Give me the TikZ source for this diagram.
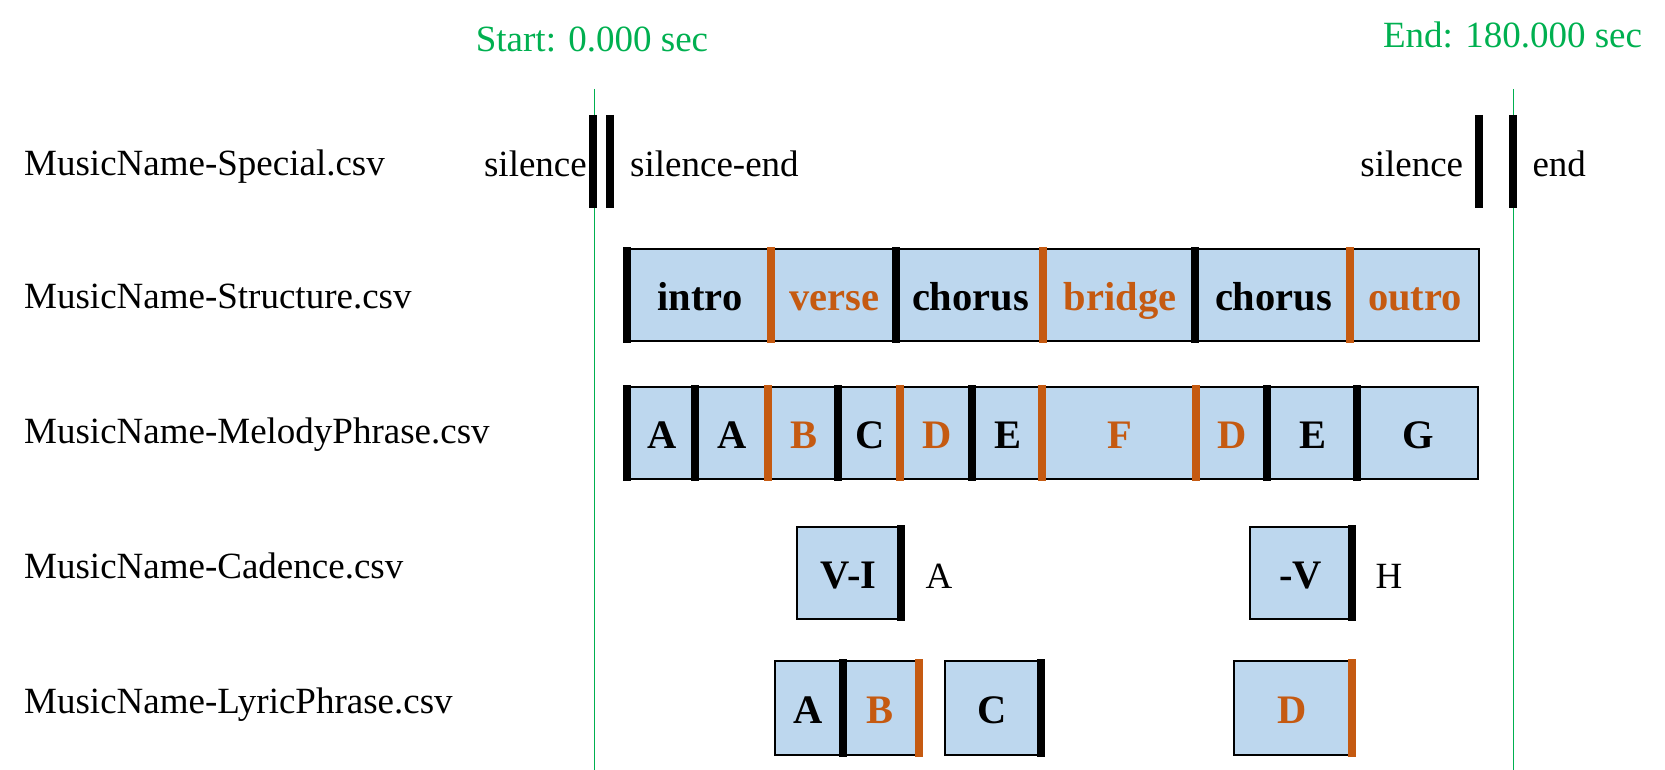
\documentclass[tikz,border=0pt]{standalone}
\usepackage{fontspec}
\setmainfont{Liberation Serif}
\usetikzlibrary{calc}
\definecolor{boxblue}{HTML}{BDD7EE}
\definecolor{tagorange}{HTML}{C55A11}
\definecolor{markgreen}{HTML}{00B050}
\newcommand\lblsize{\fontsize{37}{44}\selectfont}
\newcommand\segsize{\fontsize{40.5}{48}\selectfont\bfseries}
% segment box: name, x1, x2, ytop, ybot, text colour, text
\newcommand\segbox[7]{%
  \node[seg, minimum width={(#3)-(#2)}, minimum height={(#5)-(#4)}] (#1)
    at ({((#2)+(#3))/2},{((#4)+(#5))/2}) {};
  \node[segtxt, text=#6] (#1-t) at ($(#1.center)+(0,15)$) {#7};
}
\newcommand\leftbar[2]{\draw[tagbar,#2] ([yshift=1pt]#1.north west) -- ([yshift=-1pt]#1.south west);}
\newcommand\rightbar[2]{\draw[tagbar,#2] ([yshift=1pt]#1.north east) -- ([yshift=-1pt]#1.south east);}
\begin{document}
\begin{tikzpicture}[x=1pt,y=-1pt,
  seg/.style={draw=black, line width=2pt, fill=boxblue, inner sep=0pt},
  segtxt/.style={font=\segsize, inner sep=0pt, anchor=base},
  lbl/.style={font=\lblsize, inner sep=0pt, anchor=base west},
  plain/.style={font=\lblsize, inner sep=0pt},
  tagbar/.style={line width=7.5pt},
  gline/.style={draw=markgreen, line width=1.3pt},
  gtext/.style={font=\lblsize, text=markgreen, inner sep=0pt, anchor=base}]
\useasboundingbox (0,0) rectangle (1665,770);

% time markers
\node[gtext] (start) at (592,52) {Start: 0.000 sec};
\node[gtext] (end) at (1512.5,47.5) {End: 180.000 sec};
\coordinate (g1top) at (594.3,89);
\coordinate (g1bot) at (594.3,770);
\coordinate (g2top) at (1513.3,89);
\coordinate (g2bot) at (1513.3,770);
\draw[gline] (g1top) -- (g1bot);
\draw[gline] (g2top) -- (g2bot);

% row labels
\node[lbl] (lspecial) at (24,176) {MusicName-Special.csv};
\node[lbl] (lstruct) at (24,308.5) {MusicName-Structure.csv};
\node[lbl] (lmelody) at (24,443.3) {MusicName-MelodyPhrase.csv};
\node[lbl] (lcadence) at (24,578.3) {MusicName-Cadence.csv};
\node[lbl] (llyric) at (24,713.3) {MusicName-LyricPhrase.csv};

% special row
\draw[tagbar] (593,115) -- (593,208);
\draw[tagbar] (610,115) -- (610,208);
\draw[tagbar] (1479,115) -- (1479,208);
\draw[tagbar] (1513,115) -- (1513,208);
\node[plain, anchor=base east] (sil1) at (587,176.7) {silence};
\node[plain, anchor=base west] (silend) at (630,176.7) {silence-end};
\node[plain, anchor=base east] (sil2) at (1463.3,176.7) {silence};
\node[plain, anchor=base west] (endtxt) at (1532.3,176.7) {end};

% structure row
\segbox{s1}{628}{772}{249}{341}{black}{intro}
\segbox{s2}{772}{897}{249}{341}{tagorange}{verse}
\segbox{s3}{897}{1044}{249}{341}{black}{chorus}
\segbox{s4}{1044}{1196}{249}{341}{tagorange}{bridge}
\segbox{s5}{1196}{1351}{249}{341}{black}{chorus}
\segbox{s6}{1351}{1479}{249}{341}{tagorange}{outro}
\leftbar{s1}{black}
\leftbar{s2}{tagorange}
\leftbar{s3}{black}
\leftbar{s4}{tagorange}
\leftbar{s5}{black}
\leftbar{s6}{tagorange}

% melody phrase row
\segbox{m1}{628}{696}{387}{479}{black}{A}
\segbox{m2}{696}{769}{387}{479}{black}{A}
\segbox{m3}{769}{839}{387}{479}{tagorange}{B}
\segbox{m4}{839}{901}{387}{479}{black}{C}
\segbox{m5}{901}{973}{387}{479}{tagorange}{D}
\segbox{m6}{973}{1043}{387}{479}{black}{E}
\segbox{m7}{1043}{1197}{387}{479}{tagorange}{F}
\segbox{m8}{1197}{1268}{387}{479}{tagorange}{D}
\segbox{m9}{1268}{1358}{387}{479}{black}{E}
\segbox{m10}{1358}{1478}{387}{479}{black}{G}
\leftbar{m1}{black}
\leftbar{m2}{black}
\leftbar{m3}{tagorange}
\leftbar{m4}{black}
\leftbar{m5}{tagorange}
\leftbar{m6}{black}
\leftbar{m7}{tagorange}
\leftbar{m8}{tagorange}
\leftbar{m9}{black}
\leftbar{m10}{black}

% cadence row
\segbox{c1}{797}{900}{527}{619}{black}{V-I}
\segbox{c2}{1250}{1351}{527}{619}{black}{-V}
\rightbar{c1}{black}
\rightbar{c2}{black}
\node[plain, anchor=base] (ca) at (939,588) {A};
\node[plain, anchor=base] (ch) at (1389,588) {H};

% lyric phrase row
\segbox{p1}{775}{842}{661}{755}{black}{A}
\segbox{p2}{842}{918}{661}{755}{tagorange}{B}
\segbox{p3}{945}{1040}{661}{755}{black}{C}
\segbox{p4}{1234}{1351}{661}{755}{tagorange}{D}
\rightbar{p1}{black}
\rightbar{p2}{tagorange}
\rightbar{p3}{black}
\rightbar{p4}{tagorange}
\end{tikzpicture}
\end{document}
